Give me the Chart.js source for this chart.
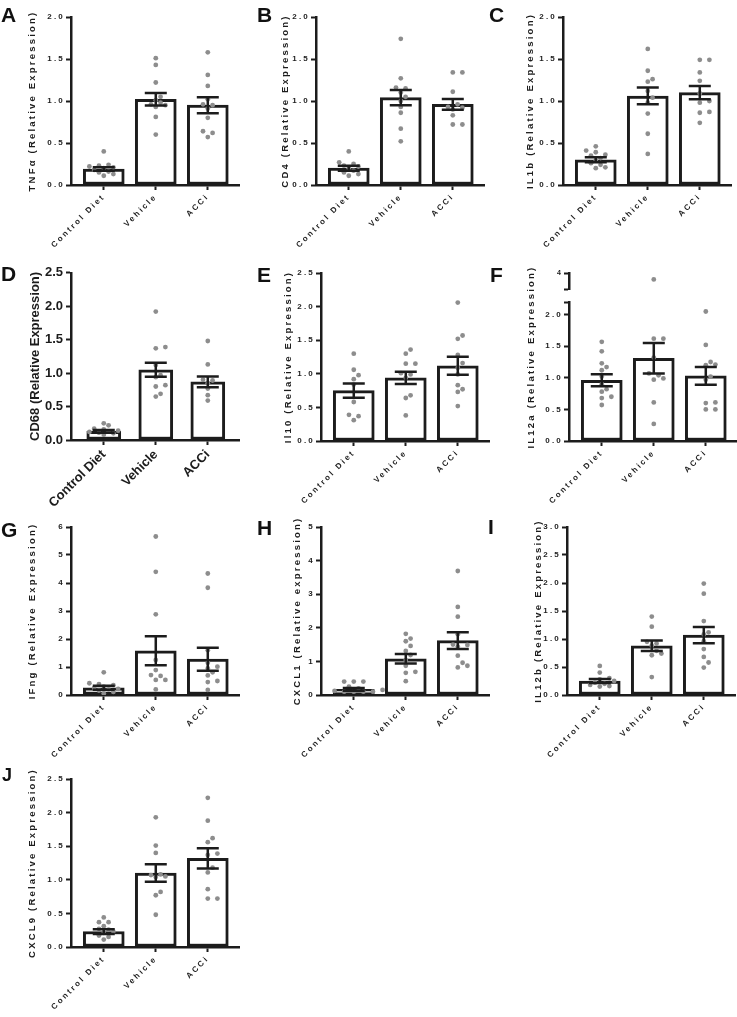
<!DOCTYPE html>
<html>
<head>
<meta charset="utf-8">
<script src="https://cdn.jsdelivr.net/npm/chart.js@4.4.1/dist/chart.umd.min.js"></script>
<style>
  html, body { margin: 0; padding: 0; background: #fff; width: 737px; height: 1017px; overflow: hidden; }
  .panel { position: absolute; }
  .tag { position: absolute; font: bold 21px "Liberation Sans", Arial, sans-serif; line-height: 1; color: #111; }
</style>
</head>
<body>
<script>
const groups = ['Control Diet', 'Vehicle', 'ACCi'];

// A - TNFa
const tnfaMean = [0.19, 1.02, 0.95];
const tnfaSem = [0.02, 0.075, 0.095];
const tnfaControl = [0.40, 0.24, 0.23, 0.22, 0.21, 0.20, 0.18, 0.16, 0.15, 0.13, 0.11];
const tnfaVehicle = [1.51, 1.43, 1.22, 1.05, 1.01, 0.98, 0.96, 0.95, 0.93, 0.81, 0.60];
const tnfaAcci = [1.58, 1.31, 1.18, 1.02, 0.96, 0.95, 0.91, 0.80, 0.64, 0.62, 0.57];
const tnfaTicks = [0, 0.5, 1, 1.5, 2];

// B - CD4
const cd4Mean = [0.20, 1.04, 0.96];
const cd4Sem = [0.03, 0.09, 0.065];
const cd4Control = [0.40, 0.27, 0.25, 0.23, 0.22, 0.20, 0.17, 0.15, 0.13, 0.11];
const cd4Vehicle = [1.74, 1.27, 1.16, 1.15, 1.10, 1.05, 1.00, 0.93, 0.86, 0.67, 0.52];
const cd4Acci = [1.34, 1.34, 1.11, 0.96, 0.93, 0.92, 0.90, 0.83, 0.72, 0.72];
const cd4Ticks = [0, 0.5, 1, 1.5, 2];

// C - IL1b
const il1bMean = [0.30, 1.06, 1.10];
const il1bSem = [0.03, 0.10, 0.08];
const il1bControl = [0.46, 0.41, 0.39, 0.36, 0.35, 0.32, 0.29, 0.26, 0.24, 0.21, 0.20];
const il1bVehicle = [1.62, 1.36, 1.26, 1.23, 1.12, 1.04, 0.98, 0.85, 0.61, 0.37];
const il1bAcci = [1.49, 1.49, 1.34, 1.24, 1.09, 1.00, 0.98, 0.87, 0.86, 0.74];
const il1bTicks = [0, 0.5, 1, 1.5, 2];

// D - CD68
const cd68Mean = [0.13, 1.05, 0.87];
const cd68Sem = [0.02, 0.105, 0.08];
const cd68Control = [0.25, 0.22, 0.17, 0.16, 0.14, 0.13, 0.12, 0.11, 0.10, 0.08];
const cd68Vehicle = [1.92, 1.39, 1.37, 1.12, 0.97, 0.94, 0.82, 0.80, 0.69, 0.65];
const cd68Acci = [1.48, 1.13, 0.90, 0.89, 0.85, 0.77, 0.67, 0.59];
const cd68Ticks = [0, 0.5, 1, 1.5, 2, 2.5];

// E - Il10
const il10Mean = [0.75, 0.94, 1.12];
const il10Sem = [0.105, 0.09, 0.135];
const il10Control = [1.30, 1.06, 0.98, 0.92, 0.84, 0.58, 0.39, 0.37, 0.31];
const il10Vehicle = [1.36, 1.30, 1.15, 1.15, 1.01, 0.99, 0.94, 0.68, 0.64, 0.38];
const il10Acci = [2.06, 1.57, 1.52, 1.28, 1.16, 1.09, 0.99, 0.83, 0.77, 0.73, 0.52];
const il10Ticks = [0, 0.5, 1, 1.5, 2, 2.5];

// F - IL12a (broken axis)
const il12aMean = [0.96, 1.31, 1.03];
const il12aSem = [0.095, 0.24, 0.14];
const il12aControl = [1.57, 1.42, 1.23, 1.17, 1.12, 1.02, 0.90, 0.82, 0.78, 0.70, 0.68, 0.57];
const il12aVehicle = [3.8, 1.62, 1.62, 1.32, 1.07, 1.04, 0.99, 0.97, 0.61, 0.27];
const il12aAcci = [2.05, 1.52, 1.25, 1.21, 1.20, 1.02, 0.97, 0.61, 0.60, 0.50, 0.50];
const il12aTicks = [0, 0.5, 1, 1.5, 2];
const il12aTopTicks = [4];

// G - IFng
const ifngMean = [0.26, 1.58, 1.28];
const ifngSem = [0.07, 0.52, 0.41];
const ifngControl = [0.81, 0.42, 0.39, 0.35, 0.30, 0.25, 0.22, 0.20, 0.16, 0.11, 0.06];
const ifngVehicle = [5.66, 4.40, 2.88, 1.25, 0.89, 0.71, 0.68, 0.54, 0.54, 0.20];
const ifngAcci = [4.34, 3.83, 1.60, 1.15, 1.01, 0.95, 0.81, 0.70, 0.50, 0.46, 0.18];
const ifngTicks = [0, 1, 2, 3, 4, 5, 6];

// H - CXCL1
const cxcl1Mean = [0.17, 1.08, 1.62];
const cxcl1Sem = [0.04, 0.14, 0.25];
const cxcl1Control = [0.40, 0.40, 0.40, 0.25, 0.20, 0.15, 0.12, 0.10, 0.10, 0.10, 0.10];
const cxcl1Vehicle = [1.82, 1.68, 1.60, 1.46, 1.31, 1.19, 1.04, 0.87, 0.69, 0.66, 0.41];
const cxcl1Acci = [3.69, 2.62, 2.33, 1.81, 1.50, 1.49, 1.44, 1.17, 0.96, 0.87, 0.82];
const cxcl1Ticks = [0, 1, 2, 3, 4, 5];

// I - IL12b
const il12bMean = [0.25, 0.88, 1.07];
const il12bSem = [0.035, 0.095, 0.145];
const il12bControl = [0.52, 0.40, 0.30, 0.28, 0.25, 0.22, 0.20, 0.18, 0.16, 0.15];
const il12bVehicle = [1.40, 1.22, 0.95, 0.92, 0.88, 0.79, 0.74, 0.71, 0.32];
const il12bAcci = [1.99, 1.81, 1.32, 1.12, 1.08, 0.96, 0.82, 0.68, 0.58, 0.49];
const il12bTicks = [0, 0.5, 1, 1.5, 2, 2.5, 3];

// J - CXCL9
const cxcl9Mean = [0.23, 1.10, 1.32];
const cxcl9Sem = [0.035, 0.13, 0.15];
const cxcl9Control = [0.44, 0.37, 0.37, 0.31, 0.27, 0.26, 0.23, 0.21, 0.17, 0.15, 0.11];
const cxcl9Vehicle = [1.93, 1.51, 1.40, 1.08, 1.07, 1.05, 1.04, 0.82, 0.77, 0.48];
const cxcl9Acci = [2.22, 1.88, 1.62, 1.56, 1.39, 1.37, 1.18, 1.11, 0.86, 0.72, 0.72];
const cxcl9Ticks = [0, 0.5, 1, 1.5, 2, 2.5];

const INK = '#1c1c1c';
const DOT = '#8d8d8d';
const FONT = '"Liberation Sans", Arial, sans-serif';

// panels: data + where each one sits on the page
const panels = [
  {tag: 'A', title: 'TNFα (Relative Expression)', mean: tnfaMean, sem: tnfaSem, points: [tnfaControl, tnfaVehicle, tnfaAcci], ticks: tnfaTicks, max: 2, dec: true,
   axisX: 71, axisTop: 17, titleOff: 38.5, tagX: 1, tagY: 7},
  {tag: 'B', title: 'CD4 (Relative Expression)', mean: cd4Mean, sem: cd4Sem, points: [cd4Control, cd4Vehicle, cd4Acci], ticks: cd4Ticks, max: 2, dec: true,
   axisX: 316, axisTop: 17, titleOff: 31, tagX: 257, tagY: 7},
  {tag: 'C', title: 'IL1b (Relative Expression)', mean: il1bMean, sem: il1bSem, points: [il1bControl, il1bVehicle, il1bAcci], ticks: il1bTicks, max: 2, dec: true,
   axisX: 563, axisTop: 17, titleOff: 32.5, tagX: 489, tagY: 7},
  {tag: 'D', title: 'CD68 (Relative Expression)', mean: cd68Mean, sem: cd68Sem, points: [cd68Control, cd68Vehicle, cd68Acci], ticks: cd68Ticks, max: 2.5, dec: true,
   axisX: 71, axisTop: 272, titleOff: 36, tagX: 1, tagY: 266, big: true, barW: 34},
  {tag: 'E', title: 'Il10 (Relative Expression)', mean: il10Mean, sem: il10Sem, points: [il10Control, il10Vehicle, il10Acci], ticks: il10Ticks, max: 2.5, dec: true,
   axisX: 321, axisTop: 273, titleOff: 32.5, tagX: 257, tagY: 267},
  {tag: 'F', title: 'IL12a (Relative Expression)', mean: il12aMean, sem: il12aSem, points: [il12aControl, il12aVehicle, il12aAcci], ticks: il12aTicks, max: 2.2, dec: true,
   brk: {min: 3.5, max: 4, ticks: il12aTopTicks, lowW: 139, gapW: 13, topW: 16},
   axisX: 569, axisTop: 273, titleOff: 38, tagX: 490, tagY: 267},
  {tag: 'G', title: 'IFng (Relative Expression)', mean: ifngMean, sem: ifngSem, points: [ifngControl, ifngVehicle, ifngAcci], ticks: ifngTicks, max: 6, dec: false,
   axisX: 71, axisTop: 527, titleOff: 38.5, tagX: 1, tagY: 522},
  {tag: 'H', title: 'CXCL1 (Relative expression)', mean: cxcl1Mean, sem: cxcl1Sem, points: [cxcl1Control, cxcl1Vehicle, cxcl1Acci], ticks: cxcl1Ticks, max: 5, dec: false,
   axisX: 321, axisTop: 527, titleOff: 23.5, tagX: 257, tagY: 520},
  {tag: 'I', title: 'IL12b (Relative Expression)', mean: il12bMean, sem: il12bSem, points: [il12bControl, il12bVehicle, il12bAcci], ticks: il12bTicks, max: 3, dec: true,
   axisX: 567, axisTop: 527, titleOff: 29, tagX: 488, tagY: 519},
  {tag: 'J', title: 'CXCL9 (Relative Expression)', mean: cxcl9Mean, sem: cxcl9Sem, points: [cxcl9Control, cxcl9Vehicle, cxcl9Acci], ticks: cxcl9Ticks, max: 2.5, dec: true,
   axisX: 71, axisTop: 779, titleOff: 38.5, tagX: 2, tagY: 769, tagSize: 18}
];

// simple beeswarm: push dots sideways (in px) until they stop overlapping
function swarm(vals, pxPerUnit) {
  const d = 5.2, step = 4.8;
  const order = vals.map((v, i) => i).sort((a, b) => vals[a] - vals[b]);
  const placed = [];
  const offs = vals.map(() => 0);
  order.forEach(i => {
    const y = vals[i] * pxPerUnit;
    for (let k = 0; k < 40; k++) {
      const s = k === 0 ? 0 : (k % 2 ? 1 : -1) * Math.ceil(k / 2) * step;
      if (placed.every(q => (q.x - s) ** 2 + (q.y - y) ** 2 >= d * d)) {
        placed.push({x: s, y: y});
        offs[i] = s;
        break;
      }
    }
  });
  return offs;
}

function buildPanel(p) {
  const big = !!p.big;
  const L = 65, T = 10, W = 168, H = 168, B = 75, R = 8;

  const wrap = document.createElement('div');
  wrap.className = 'panel';
  wrap.style.left = (p.axisX - L) + 'px';
  wrap.style.top = (p.axisTop - T) + 'px';
  const cv = document.createElement('canvas');
  cv.width = L + W + R;
  cv.height = T + H + B;
  cv.style.width = cv.width + 'px';
  cv.style.height = cv.height + 'px';
  wrap.appendChild(cv);
  document.body.appendChild(wrap);

  const tag = document.createElement('div');
  tag.className = 'tag';
  tag.textContent = p.tag;
  tag.style.left = p.tagX + 'px';
  tag.style.top = (p.tagY - 3) + 'px';
  if (p.tagSize) tag.style.fontSize = p.tagSize + 'px';
  document.body.appendChild(tag);

  const xMin = -0.63, xMax = 2.6;
  const xUnit = W / (xMax - xMin);
  const stackW = p.brk ? p.brk.lowW + p.brk.gapW + p.brk.topW : 1;
  const lowPx = (p.brk ? H * p.brk.lowW / stackW : H) / p.max;
  const topPx = p.brk ? (H * p.brk.topW / stackW) / (p.brk.max - p.brk.min) : 1;

  const dots = [], topDots = [];
  p.points.forEach((vals, g) => {
    const low = vals.filter(v => v <= p.max);
    const lo = swarm(low, lowPx);
    low.forEach((v, k) => dots.push({x: g + lo[k] / xUnit, y: v}));
    const hi = vals.filter(v => v > p.max);
    const ho = swarm(hi, topPx);
    hi.forEach((v, k) => topDots.push({x: g + ho[k] / xUnit, y: v}));
  });

  const f = size => ({family: FONT, size: size, weight: 'bold'});
  const tickFont = f(big ? 13 : 8);
  const labelFont = f(big ? 13 : 8);
  const titleSize = big ? 13 : 9.5;
  const spacing = big ? '0px' : '2.2px';
  const fmt = v => p.dec ? v.toFixed(1) : String(v);

  const axisGrid = {display: true, drawOnChartArea: false, drawTicks: true, tickLength: 5, tickWidth: 2, tickColor: INK, offset: false};
  const axisBorder = {display: true, color: INK, width: 2.5};

  const scales = {
    x: {
      type: 'linear', min: xMin, max: xMax, offset: false,
      afterBuildTicks: s => { s.ticks = groups.map((g, i) => ({value: i})); },
      afterFit: s => { s.height = B; },
      ticks: {color: INK, font: labelFont, minRotation: 45, maxRotation: 45, autoSkip: false, padding: 2,
              callback: v => groups[v]},
      grid: axisGrid, border: axisBorder
    },
    y: {
      type: 'linear', position: 'left', min: 0, max: p.max,
      afterBuildTicks: s => { s.ticks = (p.brk ? p.ticks.concat([p.max]) : p.ticks).map(v => ({value: v})); },
      afterFit: s => { s.width = L; },
      ticks: {color: INK, font: tickFont, padding: big ? 3 : 1, autoSkip: false,
              callback: v => p.ticks.includes(v) ? fmt(v) : ''},
      grid: axisGrid, border: axisBorder
    }
  };
  if (p.brk) {
    scales.y.stack = 'brk';
    scales.y.stackWeight = p.brk.lowW;
    scales.yGap = {
      type: 'linear', position: 'left', min: 0, max: 1, stack: 'brk', stackWeight: p.brk.gapW,
      afterFit: s => { s.width = L; },
      ticks: {display: false}, grid: {display: false}, border: {display: false}
    };
    scales.yTop = {
      type: 'linear', position: 'left', min: p.brk.min, max: p.brk.max, stack: 'brk', stackWeight: p.brk.topW,
      afterBuildTicks: s => { s.ticks = [p.brk.min, p.brk.max].map(v => ({value: v})); },
      afterFit: s => { s.width = L; },
      ticks: {color: INK, font: f(7), padding: 1, autoSkip: false,
              callback: v => p.brk.ticks.includes(v) ? String(v) : ''},
      grid: axisGrid, border: axisBorder
    };
  }

  const datasets = [
    {type: 'bar', data: p.mean.map((m, i) => ({x: i, y: m})), yAxisID: 'y', order: 3,
     backgroundColor: '#ffffff', borderColor: INK, borderWidth: 3, borderSkipped: false, barThickness: p.barW || 41},
    {type: 'scatter', data: dots, yAxisID: 'y', order: 1,
     pointRadius: 2.4, pointBackgroundColor: DOT, pointBorderWidth: 0}
  ];
  if (topDots.length) {
    datasets.push({type: 'scatter', data: topDots, yAxisID: 'yTop', order: 1,
                   pointRadius: 2.4, pointBackgroundColor: DOT, pointBorderWidth: 0});
  }

  const spacer = {
    id: 'spacer',
    beforeUpdate(c) { c.ctx.letterSpacing = spacing; },
    beforeDraw(c) { c.ctx.letterSpacing = spacing; }
  };

  const errorBars = {
    id: 'errorBars',
    afterDatasetsDraw(c) {
      const ctx = c.ctx, xs = c.scales.x, ys = c.scales.y;
      ctx.save();
      ctx.strokeStyle = INK;
      ctx.lineWidth = 2.5;
      p.mean.forEach((m, i) => {
        const x = xs.getPixelForValue(i);
        const y1 = ys.getPixelForValue(m + p.sem[i]);
        const y0 = ys.getPixelForValue(m - p.sem[i]);
        ctx.beginPath();
        ctx.moveTo(x, y0); ctx.lineTo(x, y1);
        ctx.moveTo(x - 11, y1); ctx.lineTo(x + 11, y1);
        ctx.moveTo(x - 11, y0); ctx.lineTo(x + 11, y0);
        ctx.stroke();
      });
      ctx.restore();
    }
  };

  // y title drawn by hand so it is centred on the whole (possibly broken) axis
  const sideTitle = {
    id: 'sideTitle',
    afterDraw(c) {
      const ctx = c.ctx, a = c.chartArea;
      ctx.save();
      ctx.letterSpacing = spacing;
      ctx.translate(L - p.titleOff, (a.top + a.bottom) / 2);
      ctx.rotate(-Math.PI / 2);
      ctx.font = 'bold ' + titleSize + 'px ' + FONT;
      ctx.fillStyle = INK;
      ctx.textAlign = 'center';
      ctx.textBaseline = 'middle';
      ctx.fillText(p.title, 0, 0);
      ctx.restore();
    }
  };

  new Chart(cv, {
    type: 'bar',
    data: {datasets: datasets},
    options: {
      responsive: false,
      animation: false,
      devicePixelRatio: 1,
      layout: {padding: {left: 0, top: T, right: R, bottom: 0}},
      plugins: {legend: {display: false}, tooltip: {enabled: false}},
      scales: scales
    },
    plugins: [spacer, errorBars, sideTitle]
  });
}

panels.forEach(buildPanel);
</script>
</body>
</html>
